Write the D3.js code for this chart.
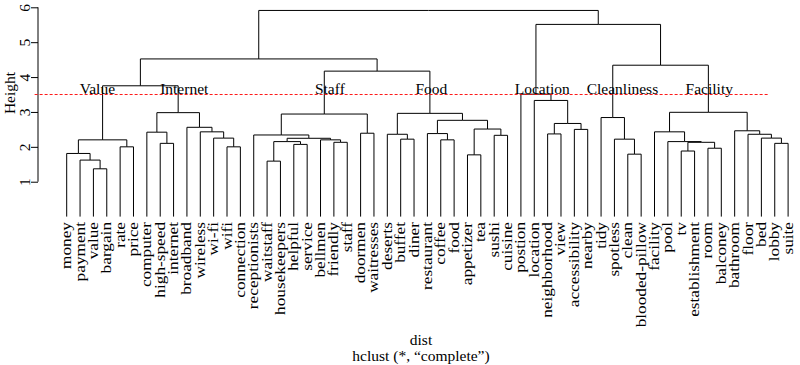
<!DOCTYPE html>
<html>
<head>
<meta charset="utf-8">
<script src="https://d3js.org/d3.v7.min.js"></script>
<style>
  body { margin: 0; background: #fff; }
  svg text { font-family: "Liberation Serif", "Times New Roman", serif; fill: #000; }
  .link { fill: none; stroke: #000; stroke-width: 1; }
</style>
</head>
<body>
<div id="chart"></div>
<script>
// leaves in plotted order
const leaves = ["money", "payment", "value", "bargain", "rate", "price",
  "computer", "high-speed", "internet", "broadband", "wireless", "wi-fi", "wifi", "connection",
  "receptionists", "waitstaff", "housekeepers", "helpful", "service", "bellmen", "friendly", "staff",
  "doormen", "waitresses", "deserts", "buffet", "diner", "restaurant", "coffee", "food", "appetizer",
  "tea", "sushi", "cuisine", "postion", "location", "neighborhood", "view", "accessibility", "nearby",
  "tidy", "spotless", "clean", "blooded-pillow", "facility", "pool", "tv", "establishment", "room",
  "balconey", "bathroom", "floor", "bed", "lobby", "suite"];

// hclust-style merge table: negative = leaf (1-based), positive = earlier merge row
const merges = [
  [-3, -4], [-2, 1], [-1, 2], [-5, -6], [3, 4],
  [-8, -9], [-7, 6], [-13, -14], [-12, 8], [-11, 9], [-10, 10], [7, 11],
  [5, 12],
  [-16, -17], [-18, -19], [14, 15], [-21, -22], [-20, 17], [16, 18], [-15, 19], [-23, -24], [20, 21],
  [-26, -27], [-25, 23], [-29, -30], [-28, 25], [-31, -32], [-33, -34], [27, 28], [26, 29], [24, 30],
  [22, 31], [13, 32],
  [-37, -38], [-39, -40], [34, 35], [-36, 36], [-35, 37],
  [-43, -44], [-42, 39], [-41, 40],
  [-47, -48], [-49, -50], [42, 43], [-46, 44], [-45, 45],
  [-54, -55], [-53, 47], [-52, 48], [-51, 49], [46, 50],
  [41, 51], [38, 52], [33, 53]
];
const heights = [
  1.37, 1.62, 1.81, 2.0, 2.2,
  2.1, 2.42, 2.0, 2.25, 2.43, 2.56, 2.98,
  3.75,
  1.59, 2.07, 2.15, 2.13, 2.2, 2.245, 2.34, 2.39, 2.94,
  2.22, 2.36, 2.2, 2.38, 1.77, 2.33, 2.51, 2.76, 2.96,
  4.17, 4.52,
  2.37, 2.5, 2.67, 3.33, 3.51,
  1.79, 2.22, 2.84,
  1.88, 1.96, 2.13, 2.15, 2.43,
  2.1, 2.25, 2.36, 2.46, 2.99,
  4.34, 5.51, 5.91
];

const clusterNames = ["Value", "Internet", "Staff", "Food", "Location", "Cleanliness", "Facility"];
const clusterPos = [2.3, 8.8, 19.7, 27.3, 35.6, 41.6, 48.1];   // in leaf units
const yTicks = [1, 2, 3, 4, 5, 6];
const cutHeight = 3.5;
const cutSpan = [-2.4, 52.5];

const W = 800, H = 365;
const serif = "'Liberation Serif', 'Times New Roman', serif";

const x = d3.scaleLinear().domain([0, leaves.length - 1]).range([66.7, 788.1]);
const y = d3.scaleLinear().domain([0, 6]).range([216.6, 7.3]);

const svg = d3.select("#chart").append("svg")
  .attr("width", W).attr("height", H);

function build(ref) {
  if (ref < 0) return { name: leaves[-ref - 1], idx: -ref - 1, height: 0 };
  const m = merges[ref - 1];
  return { height: heights[ref - 1], children: [build(m[0]), build(m[1])] };
}

const root = d3.hierarchy(build(merges.length));
root.eachAfter(function(d) {
  d.pos = d.children ? d3.mean(d.children, c => c.pos) : d.data.idx;
});

// dendrogram branches
svg.append("g").selectAll("path")
  .data(root.links())
  .enter().append("path")
  .attr("class", "link")
  .attr("d", function(l) {
    return "M" + x(l.target.pos) + "," + y(l.target.data.height) +
      "V" + y(l.source.data.height) + "H" + x(l.source.pos);
  });

// leaf labels (a bit stretched along their length, like the reference)
svg.append("g").selectAll("text")
  .data(root.leaves())
  .enter().append("text")
  .attr("transform", d => "translate(" + (x(d.pos) + 4.5) + "," + 222 + ") rotate(-90) scale(1.15,1)")
  .attr("text-anchor", "end")
  .style("font-size", "15px")
  .text(d => d.data.name);

// y axis
const axis = svg.append("g")
  .attr("transform", "translate(38,0)")
  .call(d3.axisLeft(y).tickValues(yTicks).tickSize(7).tickFormat(d3.format("d")))
  .attr("font-family", serif)
  .attr("font-size", null);
axis.select(".domain").remove();
axis.append("line")
  .attr("y1", y(yTicks[0])).attr("y2", y(yTicks[yTicks.length - 1]))
  .attr("stroke", "#000");
axis.selectAll(".tick line").attr("stroke", "#000");
axis.selectAll(".tick text")
  .attr("x", 0).attr("y", -8).attr("dy", 0)
  .attr("transform", "rotate(-90)")
  .attr("text-anchor", "middle")
  .attr("fill", "#000")
  .style("font-family", serif)
  .style("font-size", "15.5px");

svg.append("text")
  .attr("transform", "translate(15,93) rotate(-90)")
  .attr("text-anchor", "middle")
  .style("font-size", "15.5px")
  .text("Height");

// cut line
svg.append("line")
  .attr("x1", x(cutSpan[0])).attr("x2", x(cutSpan[1]))
  .attr("y1", y(cutHeight)).attr("y2", y(cutHeight))
  .attr("stroke", "red")
  .attr("stroke-width", 0.9)
  .attr("stroke-dasharray", "3,2");

// cluster names
svg.append("g").selectAll("text")
  .data(clusterNames)
  .enter().append("text")
  .attr("x", (d, i) => x(clusterPos[i]))
  .attr("y", y(cutHeight) - 0.5)
  .attr("text-anchor", "middle")
  .style("font-size", "15.5px")
  .text(d => d);

// sub titles
svg.append("text")
  .attr("x", 421).attr("y", 345)
  .attr("text-anchor", "middle")
  .style("font-size", "15.5px")
  .text("dist");
svg.append("text")
  .attr("x", 421).attr("y", 361)
  .attr("text-anchor", "middle")
  .style("font-size", "15.5px")
  .text("hclust (*, \u201ccomplete\u201d)");
</script>
</body>
</html>
